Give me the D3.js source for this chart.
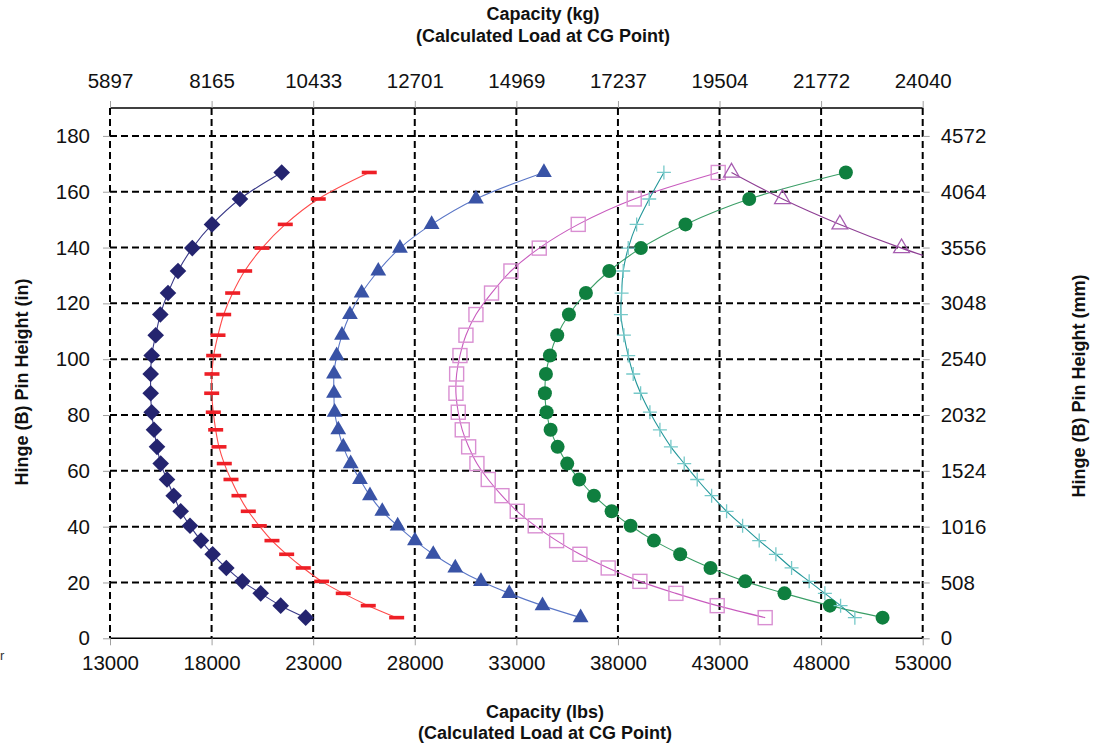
<!DOCTYPE html>
<html>
<head>
<meta charset="utf-8">
<script src="https://cdn.jsdelivr.net/npm/d3@7"></script>
<style>
  html, body { margin: 0; padding: 0; background: #fff; }
  svg { display: block; font-family: "Liberation Sans", Arial, sans-serif; }
</style>
</head>
<body>
<svg id="chart" width="1101" height="744"></svg>
<script>
// ---------------- DATA ----------------
// Hinge (B) pin heights (in) shared by all series
const heightsIn = [7.4, 11.7, 16.1, 20.4, 25.2, 30.1, 35.0, 40.3, 45.5, 51.1, 56.9, 62.6, 68.6,
  74.7, 81.0, 87.8, 94.7, 101.3, 108.6, 116.0, 123.7, 131.6, 139.8, 148.3, 157.4, 166.9];

// Capacity (lbs) per series, one value per height above
const diamondLbs = [22631, 21401, 20417, 19512, 18725, 18053, 17478, 16937, 16479, 16135, 15805, 15495, 15313,
  15165, 15052, 15003, 15003, 15052, 15249, 15477, 15854, 16346, 17050, 18020, 19397, 21450];
const dashLbs = [27109, 25711, 24481, 23418, 22513, 21695, 20972, 20347, 19806, 19348, 18955, 18625, 18364,
  18201, 18084, 18005, 18020, 18103, 18315, 18595, 19038, 19628, 20480, 21627, 23250, 25760];
const triangleLbs = [36163, 34288, 32650, 31257, 29993, 28910, 28009, 27158, 26400, 25795, 25303, 24845, 24481,
  24235, 24058, 24023, 24023, 24156, 24417, 24810, 25385, 26204, 27271, 28830, 31011, 34357];
const squareLbs = [45247, 42886, 40853, 39081, 37521, 36129, 34982, 33929, 33044, 32290, 31616, 31060, 30652,
  30337, 30140, 30027, 30061, 30224, 30519, 31011, 31778, 32733, 34127, 36046, 38801, 42935];
const circleLbs = [51024, 48431, 46196, 44264, 42556, 41064, 39770, 38623, 37689, 36818, 36094, 35504, 35031,
  34686, 34489, 34406, 34456, 34652, 35011, 35587, 36424, 37571, 39130, 41325, 44460, 49219];
const crossLbs = [49661, 48958, 48185, 47413, 46546, 45774, 44953, 44136, 43348, 42611, 41902, 41262, 40607,
  40066, 39573, 39116, 38752, 38506, 38294, 38146, 38181, 38260, 38506, 38920, 39539, 40262];
// open-triangle series: only the top points are inside the plotted range
const openTriHeights = [131.6, 139.8, 148.3, 157.4, 166.9];
const openTriLbs = [55400, 51959, 48923, 46099, 43589];

// Tick labels
const lbsTicks = [13000, 18000, 23000, 28000, 33000, 38000, 43000, 48000, 53000];
const kgTicks = [5897, 8165, 10433, 12701, 14969, 17237, 19504, 21772, 24040];
const inTicks = [0, 20, 40, 60, 80, 100, 120, 140, 160, 180];
const mmTicks = [0, 508, 1016, 1524, 2032, 2540, 3048, 3556, 4064, 4572];

// ---------------- LAYOUT ----------------
const svg = d3.select("#chart");
const L = 110, R = 922.7, T = 108, B = 638.3;
const FONT = 20.5;
const LBS_TO_KG = 0.45359237, IN_TO_MM = 25.4;

const x = d3.scaleLinear().domain([13000, 53000]).range([L, R]);
const xKg = d3.scaleLinear().domain([13000 * LBS_TO_KG, 53000 * LBS_TO_KG]).range([L, R]);
const y = d3.scaleLinear().domain([0, 190]).range([B, T]);
const yMm = d3.scaleLinear().domain([0, 190 * IN_TO_MM]).range([B, T]);

svg.append("defs").append("clipPath").attr("id", "plotclip")
  .append("rect").attr("x", L).attr("y", T).attr("width", R - L).attr("height", B - T);

// ---------------- GRID ----------------
const grid = svg.append("g");
grid.selectAll("line.v").data(lbsTicks).join("line")
  .attr("x1", d => x(d)).attr("x2", d => x(d))
  .attr("y1", T).attr("y2", B)
  .attr("stroke", "#000").attr("stroke-width", 2).attr("stroke-dasharray", "7,4");
grid.selectAll("line.h").data(inTicks.filter(d => d > 0)).join("line")
  .attr("x1", L).attr("x2", R)
  .attr("y1", d => y(d)).attr("y2", d => y(d))
  .attr("stroke", "#000").attr("stroke-width", 2).attr("stroke-dasharray", "7,4");
// top and bottom frame
svg.append("line").attr("x1", L).attr("x2", R).attr("y1", y(190)).attr("y2", y(190))
  .attr("stroke", "#000").attr("stroke-width", 1.3);
svg.append("line").attr("x1", L).attr("x2", R).attr("y1", y(0)).attr("y2", y(0))
  .attr("stroke", "#000").attr("stroke-width", 1.6);

// ---------------- AXES ----------------
function styleAxis(g) {
  g.select(".domain").remove();
  g.selectAll(".tick line").attr("stroke", "#a0a0a0").attr("stroke-width", 1);
  g.selectAll(".tick text").attr("fill", "#111").style("font-size", FONT + "px")
    .style("font-family", '"Liberation Sans", Arial, sans-serif');
}
svg.append("g").attr("transform", `translate(0,${B})`)
  .call(d3.axisBottom(x).tickValues(lbsTicks).tickSize(7).tickPadding(10).tickFormat(d3.format("d")))
  .call(styleAxis);
svg.append("g").attr("transform", `translate(0,${T})`)
  .call(d3.axisTop(xKg).tickValues(kgTicks).tickSize(7).tickPadding(13).tickFormat(d3.format("d")))
  .call(styleAxis);
svg.append("g").attr("transform", `translate(${L},0)`)
  .call(d3.axisLeft(y).tickValues(inTicks).tickSize(7).tickPadding(13).tickFormat(d3.format("d")))
  .call(styleAxis);
svg.append("g").attr("transform", `translate(${R},0)`)
  .call(d3.axisRight(yMm).tickValues(mmTicks).tickSize(7).tickPadding(11).tickFormat(d3.format("d")))
  .call(styleAxis);

// ---------------- TITLES ----------------
const titleStyle = t => t.attr("font-weight", "bold").attr("font-size", 18).attr("fill", "#111")
  .attr("text-anchor", "middle");
svg.append("text").attr("x", 543).attr("y", 20).text("Capacity (kg)").call(titleStyle);
svg.append("text").attr("x", 543).attr("y", 42).text("(Calculated Load at CG Point)").call(titleStyle);
svg.append("text").attr("x", 545).attr("y", 718).text("Capacity (lbs)").call(titleStyle);
svg.append("text").attr("x", 545).attr("y", 739).text("(Calculated Load at CG Point)").call(titleStyle);
svg.append("text").attr("transform", "translate(28,382) rotate(-90)")
  .text("Hinge (B) Pin Height (in)").call(titleStyle);
svg.append("text").attr("transform", "translate(1085,386) rotate(-90)")
  .text("Hinge (B) Pin Height (mm)").call(titleStyle);
// clipped stray label at the left edge
svg.append("text").attr("x", 0).attr("y", 660).attr("font-size", 13).attr("fill", "#333").text("r");

// ---------------- SERIES ----------------
const series = [
  { lbs: diamondLbs, h: heightsIn, line: "#3a3a88", color: "#24246f", marker: "diamond" },
  { lbs: dashLbs, h: heightsIn, line: "#ff4a4a", color: "#ee1f26", marker: "dash" },
  { lbs: triangleLbs, h: heightsIn, line: "#5a76c6", color: "#3953a6", marker: "triangle" },
  { lbs: squareLbs, h: heightsIn, line: "#c85bbe", color: "#d98fd2", marker: "square" },
  { lbs: circleLbs, h: heightsIn, line: "#3a9e66", color: "#0f7f3f", marker: "circle" },
  { lbs: crossLbs, h: heightsIn, line: "#23979a", color: "#76c9c9", marker: "cross" },
  { lbs: openTriLbs, h: openTriHeights, line: "#8e3f94", color: "#a65cb0", marker: "opentri" }
];

const plot = svg.append("g").attr("clip-path", "url(#plotclip)");
const lineGen = d3.line().x(d => x(d[0])).y(d => y(d[1])).curve(d3.curveCatmullRom.alpha(0.5));

series.forEach(s => {
  const pts = s.lbs.map((v, i) => [v, s.h[i]]);
  plot.append("path").datum(pts).attr("d", lineGen)
    .attr("fill", "none").attr("stroke", s.line).attr("stroke-width", 1.1);
});

const triPath = d3.symbol().type(d3.symbolTriangle).size(108)();
series.forEach(s => {
  const pts = s.lbs.map((v, i) => [v, s.h[i]]);
  const g = plot.append("g");
  const sel = g.selectAll("g").data(pts).join("g")
    .attr("transform", d => `translate(${x(d[0])},${y(d[1])})`);
  if (s.marker === "diamond") {
    sel.append("path").attr("d", "M0,-8.3L8.3,0L0,8.3L-8.3,0Z").attr("fill", s.color);
  } else if (s.marker === "dash") {
    sel.append("rect").attr("x", -7.5).attr("y", -1.8).attr("width", 15).attr("height", 3.6).attr("fill", s.color);
  } else if (s.marker === "triangle") {
    sel.append("path").attr("d", triPath).attr("fill", s.color);
  } else if (s.marker === "square") {
    sel.append("rect").attr("x", -7).attr("y", -7).attr("width", 14).attr("height", 14)
      .attr("fill", "none").attr("stroke", s.color).attr("stroke-width", 1.4);
  } else if (s.marker === "circle") {
    sel.append("circle").attr("r", 7).attr("fill", s.color);
  } else if (s.marker === "cross") {
    sel.append("path").attr("d", "M-7,0H7M0,-7V7").attr("stroke", s.color).attr("stroke-width", 1.3);
  } else if (s.marker === "opentri") {
    sel.append("path").attr("d", triPath).attr("fill", "none").attr("stroke", s.color).attr("stroke-width", 1.3);
  }
});
</script>
</body>
</html>
